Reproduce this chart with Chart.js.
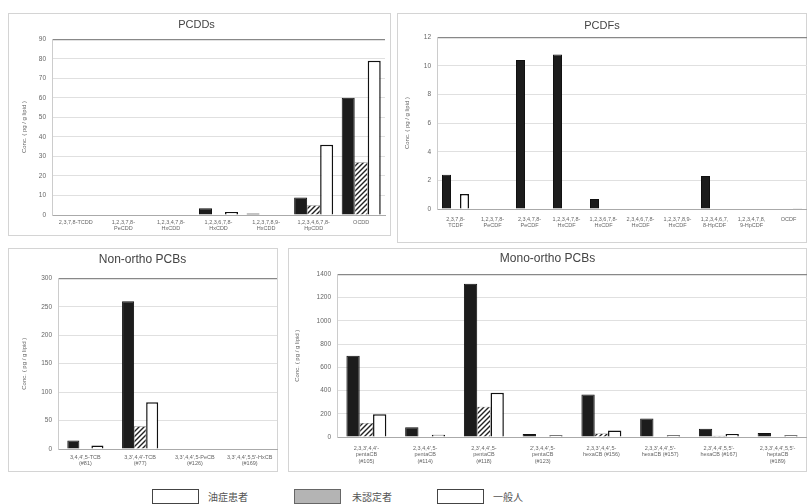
<!DOCTYPE html>
<html><head><meta charset="utf-8">
<script src="https://cdn.jsdelivr.net/npm/chart.js@4"></script>
<style>
body{margin:0;background:#fff;width:807px;height:504px;position:relative;overflow:hidden;font-family:"Noto Sans CJK JP","Noto Sans",sans-serif;}
.panel{position:absolute;box-shadow:inset 0 0 0 1px #d4d4d4;background:#fff}
.panel canvas{position:absolute;left:0;top:0}
.lg{position:absolute;top:489px;height:15px;box-sizing:border-box;border:1px solid #444;}
.lt{position:absolute;top:489px;font-size:10px;color:#555;line-height:15px;}
</style></head><body>
<div class="panel" style="left:8px;top:13px;width:383px;height:223px"><canvas id="c1" width="383" height="223"></canvas></div>
<div class="panel" style="left:397px;top:13px;width:410px;height:230px"><canvas id="c2" width="410" height="230"></canvas></div>
<div class="panel" style="left:8px;top:248px;width:270px;height:224px"><canvas id="c3" width="270" height="224"></canvas></div>
<div class="panel" style="left:288px;top:248px;width:519px;height:224px"><canvas id="c4" width="519" height="224"></canvas></div>
<div class="lg" style="left:152px;width:47px;background:#fff"></div>
<div class="lt" style="left:208px" id="l1"></div>
<div class="lg" style="left:294px;width:47px;background:#b4b4b4;border-color:#666"></div>
<div class="lt" style="left:352px" id="l2"></div>
<div class="lg" style="left:437px;width:47px;background:#fff"></div>
<div class="lt" style="left:493px" id="l3"></div>
<script>
// ---- data ----
const seriesNames = ['油症患者', '未認定者', '一般人'];
const yTitle = 'Conc. ( pg / g lipid )';

const pcddLabels = [['2,3,7,8-TCDD'], ['1,2,3,7,8-', 'PeCDD'], ['1,2,3,4,7,8-', 'HxCDD'], ['1,2,3,6,7,8-', 'HxCDD'], ['1,2,3,7,8,9-', 'HxCDD'], ['1,2,3,4,6,7,8-', 'HpCDD'], ['OCDD']];
const pcddPatients = [0, 0, 0, 3.5, 0.8, 9, 60];
const pcddUncertified = [0, 0, 0, 0, 0, 5, 27];
const pcddGeneral = [0, 0, 0, 1.5, 0, 36, 79];

const pcdfLabels = [['2,3,7,8-', 'TCDF'], ['1,2,3,7,8-', 'PeCDF'], ['2,3,4,7,8-', 'PeCDF'], ['1,2,3,4,7,8-', 'HxCDF'], ['1,2,3,6,7,8-', 'HxCDF'], ['2,3,4,6,7,8-', 'HxCDF'], ['1,2,3,7,8,9-', 'HxCDF'], ['1,2,3,4,6,7,', '8-HpCDF'], ['1,2,3,4,7,8,', '9-HpCDF'], ['OCDF']];
const pcdfPatients = [2.4, 0, 10.4, 10.8, 0.7, 0, 0, 2.3, 0, 0];
const pcdfUncertified = [0, 0, 0, 0, 0, 0, 0, 0, 0, 0];
const pcdfGeneral = [1.05, 0, 0, 0, 0, 0, 0, 0, 0, 0.05];

const nonLabels = [["3,4,4',5-TCB", '(#81)'], ["3,3',4,4'-TCB", '(#77)'], ["3,3',4,4',5-PeCB", '(#126)'], ["3,3',4,4',5,5'-HxCB", '(#169)']];
const nonPatients = [15, 260, 0, 0];
const nonUncertified = [0, 40, 0, 0];
const nonGeneral = [6, 82, 0, 0];

const monoLabels = [["2,3,3',4,4'-", 'pentaCB', '(#105)'], ["2,3,4,4',5-", 'pentaCB', '(#114)'], ["2,3',4,4',5-", 'pentaCB', '(#118)'], ["2',3,4,4',5-", 'pentaCB', '(#123)'], ["2,3,3',4,4',5-", 'hexaCB (#156)'], ["2,3,3',4,4',5'-", 'hexaCB (#157)'], ["2,3',4,4',5,5'-", 'hexaCB (#167)'], ["2,3,3',4,4',5,5'-", 'heptaCB', '(#189)']];
const monoPatients = [700, 85, 1320, 25, 365, 160, 70, 35];
const monoUncertified = [120, 5, 260, 5, 30, 5, 10, 5];
const monoGeneral = [195, 20, 380, 15, 55, 15, 25, 15];

// ---- rendering ----
document.getElementById('l1').textContent = seriesNames[0];
document.getElementById('l2').textContent = seriesNames[1];
document.getElementById('l3').textContent = seriesNames[2];

function makeHatch() {
  const c = document.createElement('canvas'); c.width = c.height = 5;
  const g = c.getContext('2d');
  g.fillStyle = '#fff'; g.fillRect(0, 0, 5, 5);
  g.strokeStyle = '#222'; g.lineWidth = 1.4;
  g.beginPath();
  g.moveTo(0, 5); g.lineTo(5, 0);
  g.moveTo(-1, 1); g.lineTo(1, -1);
  g.moveTo(4, 6); g.lineTo(6, 4);
  g.stroke();
  return g.createPattern(c, 'repeat');
}
const hatch = makeHatch();

function build(id, labels, a, b, c, cfg) {
  new Chart(document.getElementById(id), {
    type: 'bar',
    data: {
      labels: labels,
      datasets: [
        { label: seriesNames[0], data: a, backgroundColor: '#1c1c1c', borderColor: '#111', borderWidth: 1 },
        { label: seriesNames[1], data: b, backgroundColor: hatch, borderColor: '#555', borderWidth: 0.5 },
        { label: seriesNames[2], data: c, backgroundColor: '#fff', borderColor: '#111', borderWidth: 1.5 }
      ]
    },
    options: {
      responsive: false, animation: false,
      datasets: { bar: { barPercentage: 1, categoryPercentage: cfg.cat } },
      layout: { padding: { left: 0, right: cfg.right, top: 0, bottom: 0 } },
      plugins: {
        legend: { display: false }, tooltip: { enabled: false },
        title: { display: true, text: cfg.title, color: '#444', font: { size: cfg.tsize, family: 'Arial, Liberation Sans', weight: 'normal' }, padding: { top: cfg.tTop, bottom: cfg.tBot } }
      },
      scales: {
        x: {
          grid: { display: false, drawTicks: false },
          border: { color: '#aaa' },
          ticks: { color: '#666', font: { size: 5.5, family: 'Arial, Liberation Sans' }, maxRotation: 0, minRotation: 0, autoSkip: false, padding: cfg.xpad },
          afterFit: s => { s.height = cfg.xh; }
        },
        y: {
          min: 0, max: cfg.max,
          ticks: { stepSize: cfg.step, color: '#666', font: { size: 6.5, family: 'Arial, Liberation Sans' }, padding: 6, callback: v => String(v) },
          grid: { color: ctx => ctx.tick && ctx.tick.value === cfg.max ? '#888' : '#e0e0e0', drawTicks: false, lineWidth: ctx => ctx.tick && ctx.tick.value === cfg.max ? 1.2 : 1 },
          border: { color: '#ccc' },
          title: { display: true, text: yTitle, color: '#666', font: { size: 6, family: 'Arial, Liberation Sans' }, padding: { top: cfg.ytp, bottom: 0 } },
          afterFit: s => { s.width = cfg.left; }
        }
      }
    }
  });
}

build('c1', pcddLabels, pcddPatients, pcddUncertified, pcddGeneral,
  { title: 'PCDDs', tsize: 11, tTop: 5, tBot: 8, left: 44, right: 6, xh: 21, xpad: 4, ytp: 13, max: 90, step: 10, cat: 0.82 });
build('c2', pcdfLabels, pcdfPatients, pcdfUncertified, pcdfGeneral,
  { title: 'PCDFs', tsize: 11, tTop: 6, tBot: 5, left: 40, right: 0, xh: 34, xpad: 7, ytp: 7, max: 12, step: 2, cat: 0.73 });
build('c3', nonLabels, nonPatients, nonUncertified, nonGeneral,
  { title: 'Non-ortho PCBs', tsize: 12, tTop: 4, tBot: 12, left: 50, right: 1, xh: 23, xpad: 5, ytp: 13, max: 300, step: 50, cat: 0.66 });
build('c4', monoLabels, monoPatients, monoUncertified, monoGeneral,
  { title: 'Mono-ortho PCBs', tsize: 12, tTop: 3, tBot: 9, left: 49, right: 0, xh: 35, xpad: 8, ytp: 6, max: 1400, step: 200, cat: 0.68 });
</script>
</body></html>
